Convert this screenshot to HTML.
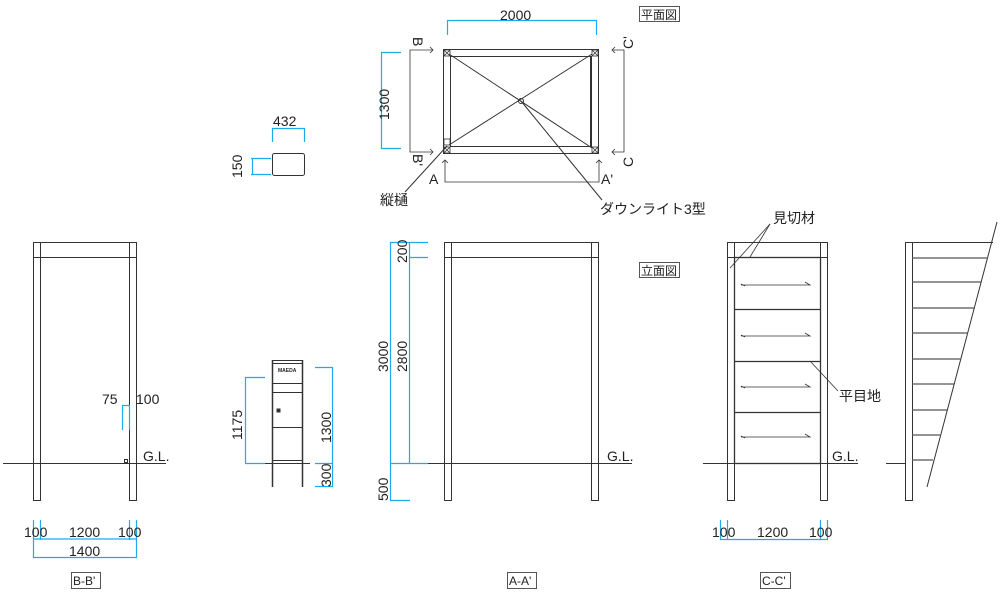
<!DOCTYPE html>
<html><head><meta charset="utf-8"><style>
html,body{margin:0;padding:0;background:#fff}
svg{display:block}
text{font-family:"Liberation Sans","Noto Sans CJK JP",sans-serif;fill:#222}
</style></head><body>
<svg width="1000" height="593" viewBox="0 0 1000 593" xmlns="http://www.w3.org/2000/svg">
<g fill="none" stroke="#333" stroke-width="1">
<rect x="33.5" y="242.5" width="103" height="15"/>
<rect x="33.5" y="242.5" width="7" height="258"/>
<rect x="129.5" y="242.5" width="7" height="258"/>
<line x1="3" y1="463.5" x2="166" y2="463.5"/>
<rect x="124.5" y="459.5" width="3" height="3"/>
<rect x="444.5" y="242.5" width="154" height="15"/>
<rect x="444.5" y="242.5" width="7" height="258"/>
<rect x="591.5" y="242.5" width="7" height="258"/>
<line x1="428" y1="463.5" x2="632" y2="463.5"/>
<rect x="727.5" y="242.5" width="100" height="15"/>
<rect x="727.5" y="242.5" width="7" height="258"/>
<rect x="820.5" y="242.5" width="7" height="258"/>
<rect x="734.5" y="257.5" width="86" height="206" stroke-width="1.3"/>
<line x1="734" y1="309.5" x2="820" y2="309.5" stroke-width="1.3"/>
<line x1="734" y1="361.5" x2="820" y2="361.5" stroke-width="1.3"/>
<line x1="734" y1="412.5" x2="820" y2="412.5" stroke-width="1.3"/>
<line x1="703" y1="463.5" x2="858" y2="463.5"/>
<g stroke-width="0.8">
<path d="M745 286 l-4 -2 M741 285 h69 l-5 -3"/><path d="M745 337 l-4 -2 M741 336 h69 l-5 -3"/>
<path d="M745 388 l-4 -2 M741 387 h69 l-5 -3"/><path d="M745 438 l-4 -2 M741 437 h69 l-5 -3"/>
</g>
<line x1="730" y1="268" x2="770" y2="224" stroke-width="0.8"/>
<line x1="750" y1="257" x2="770" y2="224" stroke-width="0.8"/>
<line x1="810" y1="361" x2="838" y2="391" stroke-width="0.8"/>
<rect x="905.5" y="242.5" width="7" height="258"/>
<line x1="912" y1="242.5" x2="993" y2="242.5"/>
<line x1="997" y1="222" x2="927" y2="487"/>
<line x1="886" y1="463.5" x2="905" y2="463.5"/>
<g stroke="#555" stroke-width="1.2">
<line x1="912" y1="258" x2="988" y2="258"/><line x1="912" y1="282" x2="981" y2="282"/>
<line x1="912" y1="308" x2="975" y2="308"/><line x1="912" y1="333" x2="968" y2="333"/>
<line x1="912" y1="359" x2="961" y2="359"/><line x1="912" y1="384" x2="954" y2="384"/>
<line x1="912" y1="410" x2="947" y2="410"/><line x1="912" y1="435" x2="940" y2="435"/>
<line x1="912" y1="460" x2="933" y2="460"/>
</g>
<rect x="443.5" y="49.5" width="155" height="104"/>
<rect x="450.5" y="56.5" width="141" height="90"/>
<line x1="590.5" y1="56" x2="590.5" y2="147"/>
<line x1="449" y1="54" x2="592" y2="148"/>
<line x1="592" y1="54" x2="449" y2="145"/>
<circle cx="521" cy="101" r="2.5"/>
<line x1="521" y1="101" x2="602" y2="200"/>
<line x1="447" y1="146" x2="405" y2="192"/>
<g stroke-width="0.8">
<rect x="444" y="50" width="6" height="6"/><path d="M444 50l6 6M450 50l-6 6"/>
<rect x="592" y="50" width="6" height="6"/><path d="M592 50l6 6M598 50l-6 6"/>
<rect x="592" y="147" width="6" height="6"/><path d="M592 147l6 6M598 147l-6 6"/>
<rect x="444" y="147" width="6" height="6"/><path d="M444 147l6 6M450 147l-6 6"/>
<rect x="444" y="139" width="6" height="6"/>
</g>
<path d="M433 50h-23v102h23" stroke-width="0.8"/>
<path d="M430 47l3 3-3 3M430 149l3 3-3 3" stroke-width="0.8"/>
<path d="M612 50h12v102h-12" stroke-width="0.8"/>
<path d="M615 47l-3 3 3 3M615 149l-3 3 3 3" stroke-width="0.8"/>
<path d="M445 160v22h154v-22" stroke-width="0.8"/>
<path d="M442 163l3-3 3 3M596 163l3-3 3 3" stroke-width="0.8"/>
<rect x="272.5" y="153.5" width="32" height="22" rx="2"/>
<line x1="276" y1="175.5" x2="301" y2="175.5"/>
<rect x="272.5" y="363.5" width="30" height="20"/>
<rect x="272.5" y="383.5" width="30" height="9"/>
<rect x="272.5" y="392.5" width="30" height="35"/>
<line x1="272.5" y1="360" x2="272.5" y2="487" stroke-width="1.5"/>
<line x1="302.5" y1="360" x2="302.5" y2="487" stroke-width="1.5"/>
<line x1="272" y1="360.5" x2="303" y2="360.5"/>
<line x1="265" y1="463.5" x2="310" y2="463.5"/>
<line x1="272" y1="460.5" x2="303" y2="460.5"/>
<rect x="277" y="409" width="3" height="3" fill="#333"/>
</g>
<g fill="none" stroke="#1eaaf0" stroke-width="1.2">
<path d="M33.5 520v38M40.5 520v20M129.5 520v20M136.5 520v38M33 539h104M33 557.5h104"/>
<path d="M122.5 405v25M129.5 405v25M122 405.5h8"/>
<path d="M720.5 520v20M727.5 520v20M820.5 520v20M827.5 520v20M720 539.5h108"/>
<path d="M390.5 242v258M409.5 242v221M390 242.5h38M409 257.5h19M390 463.5h38M390 500.5h20"/>
<path d="M447.5 20v15M596.5 20v15M447 20.5h150"/>
<path d="M381.5 52v97M381 52.5h20M381 148.5h20"/>
<path d="M272.5 128v14M304.5 128v14M272 128.5h33"/>
<path d="M251 158.5h20M251 174.5h20M252.5 158v17"/>
<path d="M245.5 377v87M245 377.5h20M245 463.5h20"/>
<path d="M332.5 367v120M315 367.5h18M315 463.5h18M315 486.5h18"/>
</g>
<g font-size="14">
<text x="102" y="404">75</text><text x="136" y="404">100</text>
<text x="143" y="461">G.L.</text>
<text x="24" y="537">100</text><text x="69" y="537">1200</text><text x="118" y="537">100</text>
<text x="69" y="556">1400</text>
<text x="607" y="461">G.L.</text>
<text x="832" y="461">G.L.</text>
<text x="712" y="537">100</text><text x="757" y="537">1200</text><text x="809" y="537">100</text>
<text x="500" y="20">2000</text>
<text x="273" y="126">432</text>
<text transform="translate(389,120) rotate(-90)">1300</text>
<text transform="translate(242,178) rotate(-90)">150</text>
<text transform="translate(242,440) rotate(-90)">1175</text>
<text transform="translate(331,443) rotate(-90)">1300</text>
<text transform="translate(331,487) rotate(-90)">300</text>
<text transform="translate(388,372) rotate(-90)">3000</text>
<text transform="translate(407,372) rotate(-90)">2800</text>
<text transform="translate(407,263) rotate(-90)">200</text>
<text transform="translate(388,501) rotate(-90)">500</text>
<text x="429" y="184">A</text><text x="601" y="184">A'</text>
<text transform="translate(413,37) rotate(90)">B</text>
<text transform="translate(413,154) rotate(90)">B'</text>
<text transform="translate(633,49) rotate(-90)">C'</text>
<text transform="translate(633,167) rotate(-90)">C</text>
<text x="380" y="205">縦樋</text>
<text x="600" y="214">ダウンライト3型</text>
<text x="773" y="223">見切材</text>
<text x="839" y="401">平目地</text>
</g>
<g font-size="12">
<rect x="639.5" y="6.5" width="40" height="15" fill="none" stroke="#555"/><text x="641" y="19">平面図</text>
<rect x="639.5" y="262.5" width="40" height="15" fill="none" stroke="#555"/><text x="641" y="275">立面図</text>
<rect x="71.5" y="572.5" width="29" height="16" fill="none" stroke="#555"/><text x="73" y="585">B-B'</text>
<rect x="507.5" y="572.5" width="29" height="16" fill="none" stroke="#555"/><text x="509" y="585">A-A'</text>
<rect x="760.5" y="572.5" width="30" height="16" fill="none" stroke="#555"/><text x="762" y="585">C-C'</text>
</g>
<text x="278" y="372" font-size="5" font-weight="bold">MAEDA</text>
</svg>
</body></html>
